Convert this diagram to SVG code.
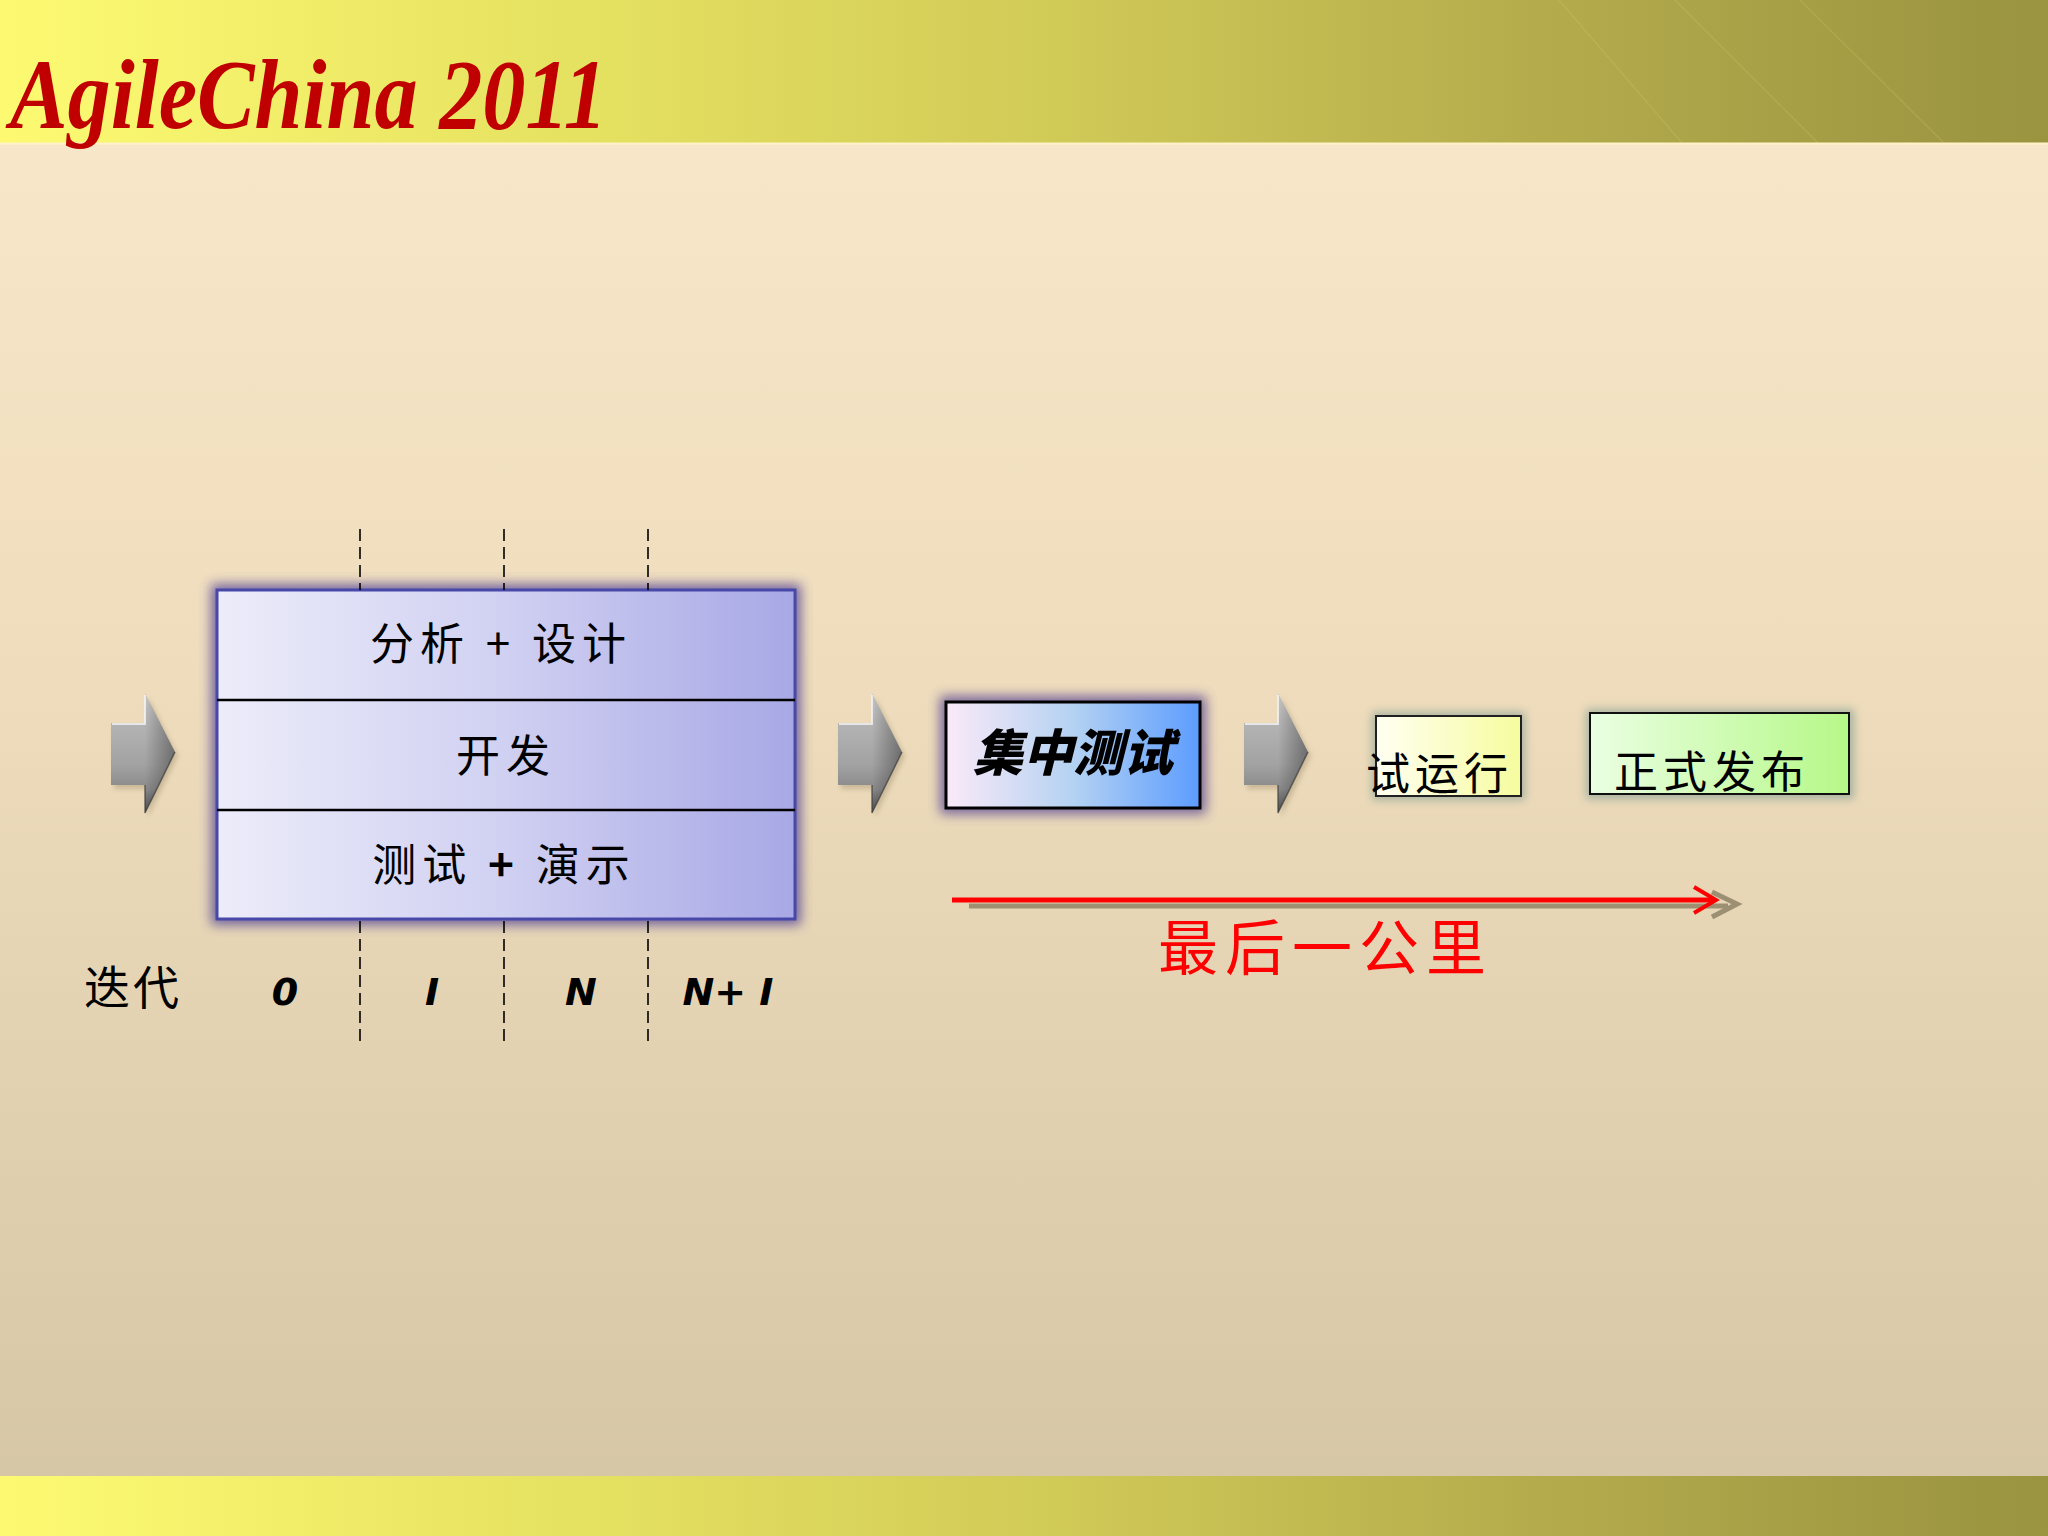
<svg xmlns="http://www.w3.org/2000/svg" width="2048" height="1536" viewBox="0 0 2048 1536">
  <defs>
    <linearGradient id="bgMain" x1="0" y1="0" x2="0" y2="1">
      <stop offset="0" stop-color="#fbe9cd"/>
      <stop offset="0.45" stop-color="#eedcbc"/>
      <stop offset="1" stop-color="#d4c5a5"/>
    </linearGradient>
    <linearGradient id="band" x1="0" y1="0" x2="1" y2="0">
      <stop offset="0" stop-color="#fdfa72"/>
      <stop offset="0.3" stop-color="#e4e060"/>
      <stop offset="0.5" stop-color="#d2cc58"/>
      <stop offset="0.75" stop-color="#b4ac4c"/>
      <stop offset="1" stop-color="#9a9340"/>
    </linearGradient>
    <linearGradient id="bigFill" x1="0" y1="0" x2="1" y2="0">
      <stop offset="0" stop-color="#ececfa"/>
      <stop offset="0.5" stop-color="#d0d0f2"/>
      <stop offset="1" stop-color="#a8a8e6"/>
    </linearGradient>
    <linearGradient id="testFill" x1="0" y1="0" x2="1" y2="0">
      <stop offset="0" stop-color="#fbeaf8"/>
      <stop offset="0.5" stop-color="#b4d2f2"/>
      <stop offset="1" stop-color="#5c9cff"/>
    </linearGradient>
    <linearGradient id="trialFill" x1="0" y1="0" x2="1" y2="0">
      <stop offset="0" stop-color="#fffff2"/>
      <stop offset="1" stop-color="#f6fc9e"/>
    </linearGradient>
    <linearGradient id="relFill" x1="0" y1="0" x2="1" y2="0">
      <stop offset="0" stop-color="#eaffe2"/>
      <stop offset="1" stop-color="#b6f888"/>
    </linearGradient>
    <linearGradient id="grayArrow" x1="0" y1="0" x2="0" y2="1">
      <stop offset="0" stop-color="#c8c8c8"/>
      <stop offset="0.25" stop-color="#b4b4b4"/>
      <stop offset="0.6" stop-color="#a2a2a2"/>
      <stop offset="0.8" stop-color="#8a8a8a"/>
      <stop offset="1" stop-color="#4c4c4c"/>
    </linearGradient>
    <linearGradient id="headShade" x1="0" y1="0" x2="1" y2="0">
      <stop offset="0" stop-color="#000" stop-opacity="0"/>
      <stop offset="1" stop-color="#000" stop-opacity="0.35"/>
    </linearGradient>
    <filter id="glow" x="-20%" y="-20%" width="140%" height="140%">
      <feGaussianBlur stdDeviation="6"/>
    </filter>
    <filter id="soft" x="-20%" y="-20%" width="140%" height="140%">
      <feGaussianBlur stdDeviation="4"/>
    </filter>
    <filter id="arrowShadow" x="-30%" y="-30%" width="160%" height="160%">
      <feGaussianBlur stdDeviation="2.5"/>
    </filter>
    <g id="blockArrow">
      <path d="M3,34 L37,34 L37,4 L67,63 L37,124 L37,96 L3,96 Z" fill="#8a7a5a" opacity="0.35" filter="url(#arrowShadow)"/>
      <path d="M0,30 L34,30 L34,0 L64,59 L34,120 L34,92 L0,92 Z" fill="url(#grayArrow)"/>
      <path d="M34,30 L34,0 L64,59 L34,120 L34,92 Z" fill="url(#headShade)"/>
      <path d="M1,31 L34,31 L34,2" fill="none" stroke="#f4f4f4" stroke-width="2" opacity="0.8"/>
      <path d="M34,92 L34,120 L64,59" fill="none" stroke="#3c3c3c" stroke-width="1.5" opacity="0.7"/>
    </g>
  </defs>
  <style>
    .cjk { font-family: "Noto Sans CJK SC", "Noto Sans", sans-serif; fill: #000; }
    .row { font-size: 44px; letter-spacing: 6px; text-anchor: middle; }
    .num { font-family: "DejaVu Sans", "Liberation Sans", sans-serif; font-weight: bold; font-style: italic; font-size: 38px; text-anchor: middle; fill: #000; }
    .dash { stroke: #000; stroke-width: 1.6; stroke-dasharray: 12 6; fill: none; }
    .sep { stroke: #000; stroke-width: 2.5; }
    .deco { stroke: #d4cc70; stroke-width: 1.2; opacity: 0.25; }
  </style>

  <rect x="0" y="0" width="2048" height="1536" fill="url(#bgMain)"/>
  <g id="header">
    <rect x="0" y="0" width="2048" height="143" fill="url(#band)"/>
    <line class="deco" x1="1559" y1="0" x2="1682" y2="143"/>
    <line class="deco" x1="1675" y1="0" x2="1818" y2="143"/>
    <line class="deco" x1="1800" y1="0" x2="1944" y2="143"/>
    <line x1="0" y1="143.5" x2="2048" y2="143.5" stroke="#fff2c8" stroke-width="2"/>
    <text x="10" y="128" font-family="Liberation Serif, serif" font-style="italic" font-weight="bold" font-size="100" fill="#c00000" textLength="597" lengthAdjust="spacingAndGlyphs">AgileChina 2011</text>
  </g>
  <g id="footer">
    <rect x="0" y="1476" width="2048" height="60" fill="url(#band)"/>
  </g>

  <g id="iteration-box">
    <rect x="211" y="584" width="590" height="341" fill="#4c3c96" opacity="0.75" filter="url(#glow)"/>
    <rect x="217" y="590" width="578" height="329" fill="url(#bigFill)" stroke="#4848a8" stroke-width="3"/>
    <line class="sep" x1="217" y1="700" x2="795" y2="700"/>
    <line class="sep" x1="217" y1="810" x2="795" y2="810"/>
    <text class="cjk row" x="501" y="660">分析 + 设计</text>
    <text class="cjk row" x="506" y="772">开发</text>
    <text class="cjk row" x="504" y="881">测试 <tspan font-weight="bold">+</tspan> 演示</text>
  </g>

  <g id="iteration-dividers">
    <line class="dash" x1="360" y1="529" x2="360" y2="590"/>
    <line class="dash" x1="504" y1="529" x2="504" y2="590"/>
    <line class="dash" x1="648" y1="529" x2="648" y2="590"/>
    <line class="dash" x1="360" y1="921" x2="360" y2="1043"/>
    <line class="dash" x1="504" y1="921" x2="504" y2="1043"/>
    <line class="dash" x1="648" y1="921" x2="648" y2="1043"/>
  </g>

  <g id="iteration-labels">
    <text class="cjk" x="84" y="1004" font-size="46" letter-spacing="3">迭代</text>
    <text class="num" x="285" y="1005">0</text>
    <text class="num" x="432" y="1005">I</text>
    <text class="num" x="581" y="1005">N</text>
    <text class="num" x="728" y="1005">N+ I</text>
  </g>

  <g id="concentrated-test">
    <rect x="940" y="696" width="266" height="118" fill="#5a4696" opacity="0.8" filter="url(#glow)"/>
    <rect x="946" y="702" width="254" height="106" fill="url(#testFill)" stroke="#000" stroke-width="3"/>
    <text class="cjk" x="1073" y="771" font-size="50" font-weight="900" font-style="italic" text-anchor="middle">集中测试</text>
  </g>

  <g id="trial-run">
    <rect x="1372" y="712" width="153" height="88" fill="#7a9a90" opacity="0.6" filter="url(#soft)"/>
    <rect x="1376" y="716" width="145" height="80" fill="url(#trialFill)" stroke="#202020" stroke-width="2"/>
    <text class="cjk" x="1366" y="790" font-size="44" letter-spacing="5">试运行</text>
  </g>

  <g id="release">
    <rect x="1586" y="709" width="268" height="90" fill="#7a9a90" opacity="0.6" filter="url(#soft)"/>
    <rect x="1590" y="713" width="259" height="81" fill="url(#relFill)" stroke="#101010" stroke-width="2"/>
    <text class="cjk" x="1614" y="788" font-size="44" letter-spacing="5">正式发布</text>
  </g>

  <g id="connectors">
    <use href="#blockArrow" x="111" y="693"/>
    <use href="#blockArrow" x="838" y="693"/>
    <use href="#blockArrow" x="1244" y="693"/>
    <line x1="969" y1="906" x2="1728" y2="906" stroke="#9c8f72" stroke-width="5"/>
    <polyline points="1712,892 1737,904 1712,917" fill="none" stroke="#9c8f72" stroke-width="5"/>
    <line x1="952" y1="900" x2="1714" y2="900" stroke="#ff0000" stroke-width="5"/>
    <polyline points="1694,887 1716,900 1694,913" fill="none" stroke="#ff0000" stroke-width="4"/>
  </g>

  <g id="last-mile-label">
    <text class="cjk" x="1158" y="970" font-size="60" letter-spacing="7" style="fill:#ff0000">最后一公里</text>
  </g>
</svg>
